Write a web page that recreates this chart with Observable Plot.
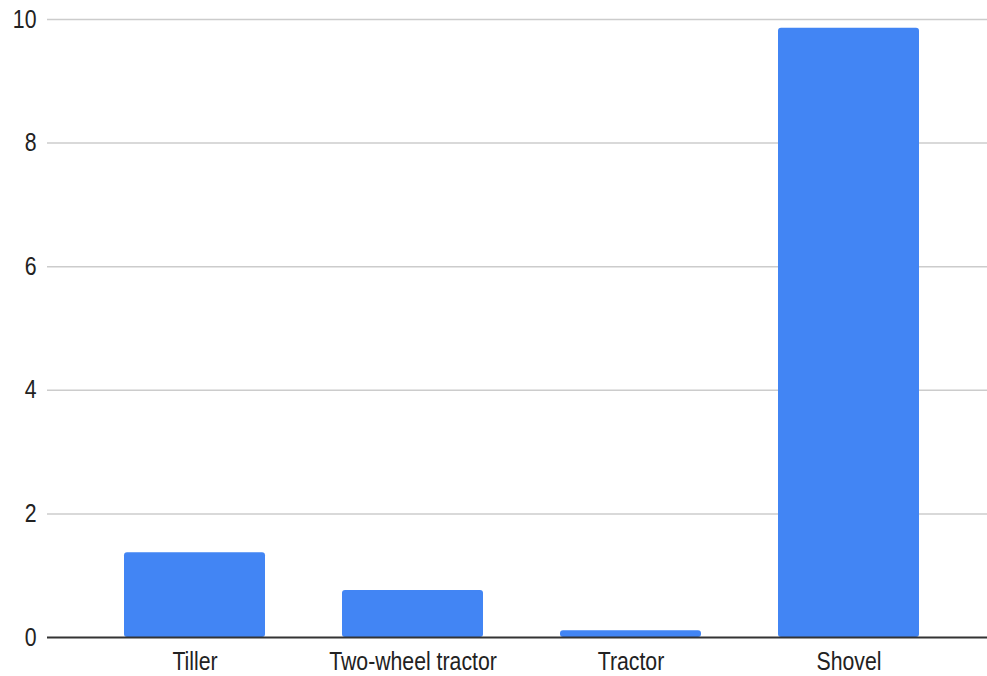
<!DOCTYPE html>
<html>
<head>
<meta charset="utf-8">
<script src="https://cdn.jsdelivr.net/npm/d3@7"></script>
<script src="https://cdn.jsdelivr.net/npm/@observablehq/plot@0.6"></script>
<style>
  html, body { margin: 0; padding: 0; background: #fff; }
  #chart svg { display: block; }
</style>
</head>
<body>
<div id="chart"></div>
<script>
const categories = ["Tiller", "Two-wheel tractor", "Tractor", "Shovel"];
const values = [1.37, 0.76, 0.11, 9.86];
const yTicks = [0, 2, 4, 6, 8, 10];

const data = categories.map((c, i) => ({category: c, value: values[i]}));

const chart = Plot.plot({
  width: 987,
  height: 676,
  marginTop: 19,
  marginBottom: 39,
  marginLeft: 47,
  marginRight: 0,
  style: {fontFamily: "'Liberation Sans', Arial, sans-serif", fontSize: "25px", color: "#222", background: "#fff"},
  x: {domain: categories, paddingInner: 0.353, paddingOuter: 0.1765, insetLeft: 38.5, insetRight: 29.5, label: null},
  y: {domain: [0, 10], label: null},
  marks: [
    Plot.ruleY(yTicks.filter(d => d > 0), {stroke: "#cccccc", strokeWidth: 1.5}),
    Plot.barY(data, {x: "category", y: "value", fill: "#4285F4", rx: 3}),
    Plot.ruleY([0], {stroke: "#333333", strokeWidth: 2}),
    Plot.axisY({ticks: yTicks, tickSize: 0, tickPadding: 11, label: null, tickFormat: d => String(d)}),
    Plot.axisX({tickSize: 0, tickPadding: 15, label: null})
  ]
});

document.getElementById("chart").appendChild(chart);

// Condense the tick labels horizontally to match the reference's narrow lettering
d3.select(chart).selectAll("g[aria-label='y-axis tick label'] text, g[aria-label='x-axis tick label'] text")
  .each(function() {
    const t = this.getAttribute("transform") || "";
    this.setAttribute("transform", t + " scale(0.85,1)");
  });
</script>
</body>
</html>
